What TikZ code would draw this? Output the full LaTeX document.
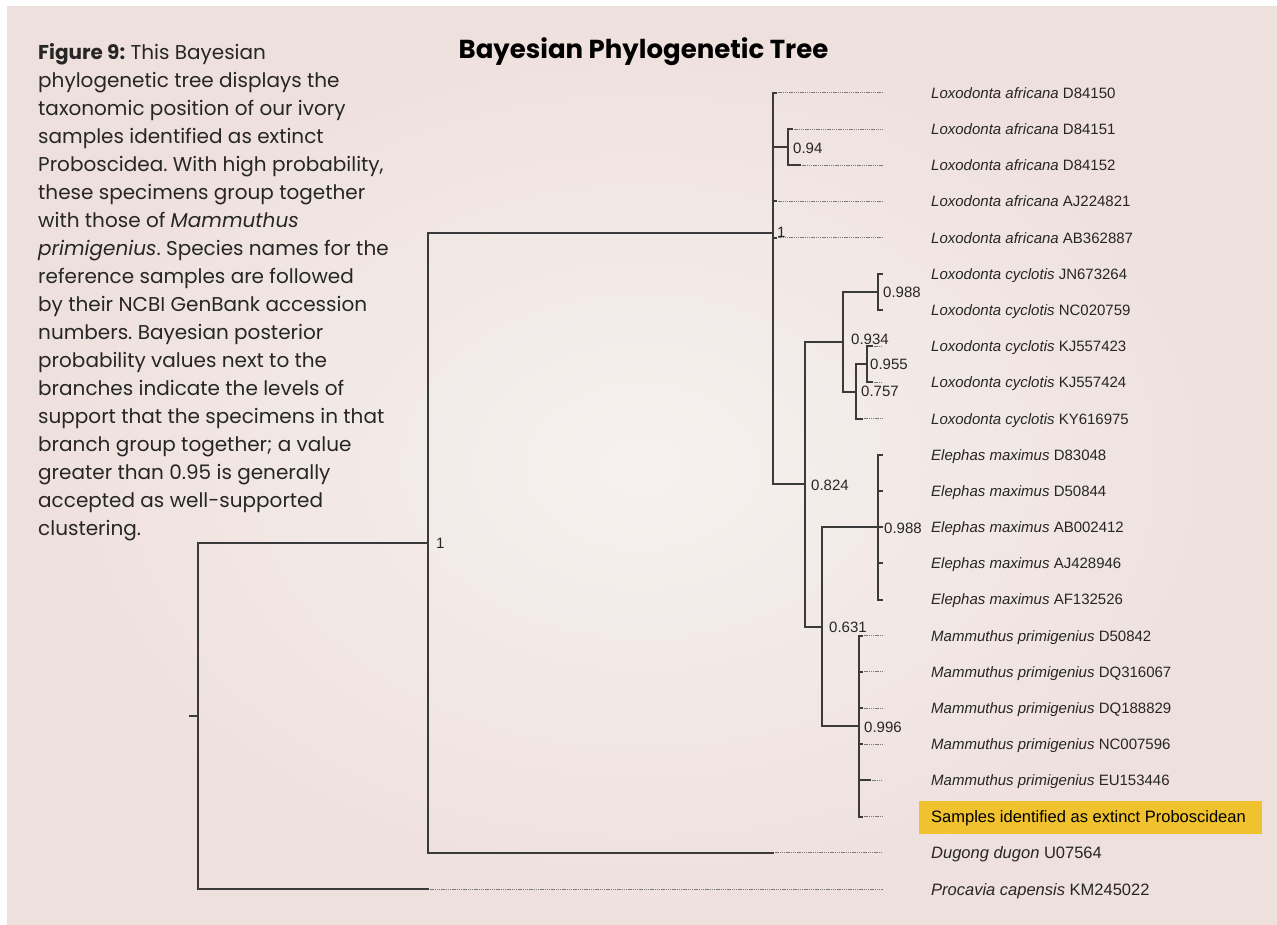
\documentclass[tikz,border=0pt]{standalone}
\usepackage{fontspec}
\setmainfont{Liberation Sans}
\newfontfamily\capfont{Poppins}
\definecolor{bgin}{HTML}{F6F1EF}
\definecolor{bgout}{HTML}{EEE0DC}
\definecolor{treec}{HTML}{3A3A3A}
\definecolor{dotc}{HTML}{7A7A7A}
\definecolor{txtc}{HTML}{262626}
\definecolor{hilite}{HTML}{F0C22E}
\frenchspacing
\begin{document}
\begin{tikzpicture}[x=1pt,y=-1pt,
  br/.style={line width=2pt,draw=treec,line cap=rect},
  dotline/.style={line width=1pt,draw=dotc,dash pattern=on 1.3pt off 0.9pt},
  leaf/.style={anchor=base west,inner sep=0pt,font=\fontsize{15}{18}\selectfont,text=txtc},
  bigleaf/.style={leaf,font=\fontsize{16.5}{18}\selectfont},
  supp/.style={anchor=base west,inner sep=0pt,font=\fontsize{15}{18}\selectfont,text=txtc}]
\useasboundingbox (0,0) rectangle (1277,925);
\fill[white] (0,0) rectangle (1277,925);
\shade[inner color=bgin,outer color=bgout] (7,7) rectangle (1277,925);

% title and caption
\node[font=\capfont\bfseries\fontsize{26}{30}\selectfont,text=black,inner sep=0pt] (title) at (643.5,52) {Bayesian Phylogenetic Tree};
\node[anchor=north west,inner sep=0pt,align=left,font=\capfont\fontsize{20}{28}\selectfont,text=txtc] (caption) at (38,43) {%
\textbf{Figure 9:} This Bayesian\\
phylogenetic tree displays the\\
taxonomic position of our ivory\\
samples identified as extinct\\
Proboscidea. With high probability,\\
these specimens group together\\
with those of \textit{Mammuthus}\\
\textit{primigenius}. Species names for the\\
reference samples are followed\\
by their NCBI GenBank accession\\
numbers. Bayesian posterior\\
probability values next to the\\
branches indicate the levels of\\
support that the specimens in that\\
branch group together; a value\\
greater than 0.95 is generally\\
accepted as well-supported\\
clustering.};

% internal nodes
\coordinate (root) at (198,715.9);
\coordinate (rstub) at (190,715.9);
\coordinate (P) at (428,542.75);
\coordinate (L) at (773,232.7);
\coordinate (A) at (788,147.3);
\coordinate (CEM) at (805,484.2);
\coordinate (C) at (843,341.7);
\coordinate (C1) at (878,292);
\coordinate (C2) at (856,391.5);
\coordinate (C3) at (867,364.4);
\coordinate (EM) at (822,626.7);
\coordinate (E) at (878,527.2);
\coordinate (M) at (859,726.1);
% leaf tips
\coordinate (t0) at (776,93);
\coordinate (t1) at (792,129.2);
\coordinate (t2) at (800,165.4);
\coordinate (t3) at (776,201.5);
\coordinate (t4) at (776,237.7);
\coordinate (t5) at (882,273.9);
\coordinate (t6) at (882,310.1);
\coordinate (t7) at (872,346.3);
\coordinate (t8) at (872,382.4);
\coordinate (t9) at (862,418.6);
\coordinate (t10) at (882,454.8);
\coordinate (t11) at (882,491);
\coordinate (t12) at (882,527.2);
\coordinate (t13) at (882,563.3);
\coordinate (t14) at (882,599.5);
\coordinate (t15) at (862,635.7);
\coordinate (t16) at (862,671.9);
\coordinate (t17) at (862,708.1);
\coordinate (t18) at (862,744.2);
\coordinate (t19) at (870,780.4);
\coordinate (t20) at (862,816.6);
\coordinate (t21) at (773,852.8);
\coordinate (t22) at (428,889);
% dotted ends
\coordinate (e0) at (883,93);
\coordinate (e1) at (883,129.2);
\coordinate (e2) at (883,165.4);
\coordinate (e3) at (883,201.5);
\coordinate (e4) at (883,237.7);
\coordinate (e7) at (881,346.3);
\coordinate (e8) at (881,382.4);
\coordinate (e9) at (882,418.6);
\coordinate (e15) at (884,635.7);
\coordinate (e16) at (884,671.9);
\coordinate (e17) at (884,708.1);
\coordinate (e18) at (884,744.2);
\coordinate (e19) at (882,780.4);
\coordinate (e20) at (884,816.6);
\coordinate (e21) at (883,852.8);
\coordinate (e22) at (883,889);

% dotted leaf extensions
\foreach \i in {0,1,2,3,4,7,8,9,15,16,17,18,19,20,21,22}{\draw[dotline] (t\i) -- (e\i);}

% branches
\draw[br] (root) -- (rstub);
\draw[br] (root) |- (P);
\draw[br] (root) |- (t22);
\draw[br] (P) |- (L);
\draw[br] (P) |- (t21);
\foreach \c in {t0,A,t3,t4,CEM}{\draw[br] (L) |- (\c);}
\foreach \c in {t1,t2}{\draw[br] (A) |- (\c);}
\foreach \c in {C,EM}{\draw[br] (CEM) |- (\c);}
\foreach \c in {C1,C2}{\draw[br] (C) |- (\c);}
\foreach \c in {t5,t6}{\draw[br] (C1) |- (\c);}
\foreach \c in {C3,t9}{\draw[br] (C2) |- (\c);}
\foreach \c in {t7,t8}{\draw[br] (C3) |- (\c);}
\foreach \c in {E,M}{\draw[br] (EM) |- (\c);}
\foreach \c in {t10,t11,t12,t13,t14}{\draw[br] (E) |- (\c);}
\foreach \c in {t15,t16,t17,t18,t19,t20}{\draw[br] (M) |- (\c);}

% support values
\node[supp] (sP) at (436,548.5) {1};
\node[supp] (sL) at (777,237.5) {1};
\node[supp] (sA) at (793,153.5) {0.94};
\node[supp] (sC1) at (883,298) {0.988};
\node[supp] (sC) at (851,344.5) {0.934};
\node[supp] (sC3) at (870,369.5) {0.955};
\node[supp] (sC2) at (861,396.5) {0.757};
\node[supp] (sCEM) at (811,490.5) {0.824};
\node[supp] (sE) at (884,533) {0.988};
\node[supp] (sEM) at (829,632.5) {0.631};
\node[supp] (sM) at (864,732.5) {0.996};

% highlight box
\fill[hilite] (919,801) rectangle (1262,834);

% leaf labels
\newcommand\lrow[1]{\fpeval{93+36.1818*#1+5.4}}
\newcommand\brow[1]{\fpeval{93+36.1818*#1+6}}
\node[leaf] (n0) at (931,\lrow{0}) {\textit{Loxodonta africana} D84150};
\node[leaf] (n1) at (931,\lrow{1}) {\textit{Loxodonta africana} D84151};
\node[leaf] (n2) at (931,\lrow{2}) {\textit{Loxodonta africana} D84152};
\node[leaf] (n3) at (931,\lrow{3}) {\textit{Loxodonta africana} AJ224821};
\node[leaf] (n4) at (931,\lrow{4}) {\textit{Loxodonta africana} AB362887};
\node[leaf] (n5) at (931,\lrow{5}) {\textit{Loxodonta cyclotis} JN673264};
\node[leaf] (n6) at (931,\lrow{6}) {\textit{Loxodonta cyclotis} NC020759};
\node[leaf] (n7) at (931,\lrow{7}) {\textit{Loxodonta cyclotis} KJ557423};
\node[leaf] (n8) at (931,\lrow{8}) {\textit{Loxodonta cyclotis} KJ557424};
\node[leaf] (n9) at (931,\lrow{9}) {\textit{Loxodonta cyclotis} KY616975};
\node[leaf] (n10) at (931,\lrow{10}) {\textit{Elephas maximus} D83048};
\node[leaf] (n11) at (931,\lrow{11}) {\textit{Elephas maximus} D50844};
\node[leaf] (n12) at (931,\lrow{12}) {\textit{Elephas maximus} AB002412};
\node[leaf] (n13) at (931,\lrow{13}) {\textit{Elephas maximus} AJ428946};
\node[leaf] (n14) at (931,\lrow{14}) {\textit{Elephas maximus} AF132526};
\node[leaf] (n15) at (931,\lrow{15}) {\textit{Mammuthus primigenius} D50842};
\node[leaf] (n16) at (931,\lrow{16}) {\textit{Mammuthus primigenius} DQ316067};
\node[leaf] (n17) at (931,\lrow{17}) {\textit{Mammuthus primigenius} DQ188829};
\node[leaf] (n18) at (931,\lrow{18}) {\textit{Mammuthus primigenius} NC007596};
\node[leaf] (n19) at (931,\lrow{19}) {\textit{Mammuthus primigenius} EU153446};
\node[bigleaf,text=black] (n20) at (931,\brow{20}) {Samples identified as extinct Proboscidean};
\node[bigleaf] (n21) at (931,\brow{21}) {\textit{Dugong dugon} U07564};
\node[bigleaf] (n22) at (931,\brow{22}) {\textit{Procavia capensis} KM245022};
\end{tikzpicture}
\end{document}
